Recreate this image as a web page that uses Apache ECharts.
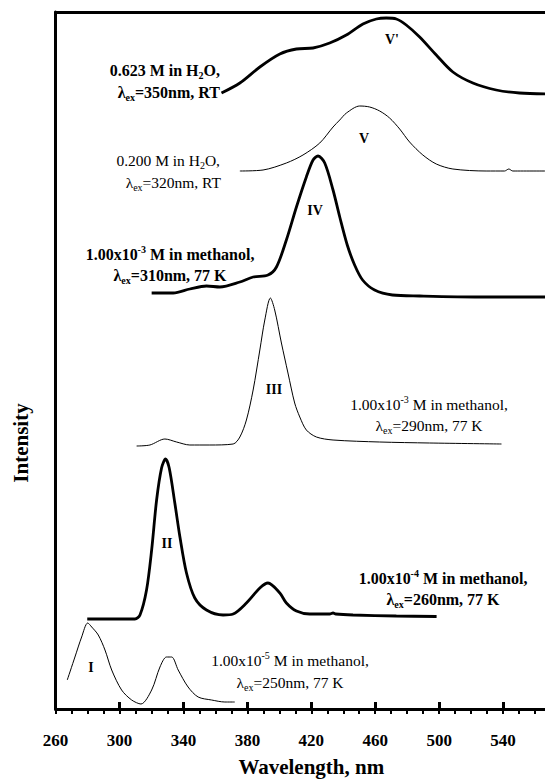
<!DOCTYPE html>
<html><head><meta charset="utf-8">
<script src="https://cdn.jsdelivr.net/npm/echarts@6/dist/echarts.min.js"></script>
<style>html,body{margin:0;padding:0;background:#fff}#c{width:545px;height:781px}</style>
</head><body><div id="c"></div>
<script>
// Wavelength (nm) and offset intensity (a.u.)
const wl_I   = [267.3,272.1,276.3,280.1,282.6,286.7,290.9,295.1,301.3,307.6,313.4,320.1,325.3,329.4,332.6,336.7,342.9,349.2,357.6,365.9,372.1];
const int_I  = [29,52,72,86,82,74,59,39,19,9,5,19,42,52,52,39,22,12,9,7,7];
const wl_II  = [279.8,309.6,312.8,316.9,320.1,323.2,326.3,328.8,331.1,334.6,337.8,341.9,347.1,354.4,364.8,371.1,379.4,387.8,392.9,400.3,404.4,410.7,419,431.5,433.6,435.3,446.1,473.2,498.4];
const int_II = [90,90,94,119,159,209,241,250,241,206,172,136,111,99,94,95,106,121,126,116,106,98,95,95,96,95,94,93,92.5];
const wl_III  = [310.7,319,328.4,335.7,344,356.5,371.1,375.3,379.4,383.6,387.8,390.9,394.4,397.1,401.3,405.4,409.6,412.8,416.9,423.2,433.6,462.8,494,539];
const int_III = [263,264,270,267,264,264,265,272,289,319,359,389,411,399,366,336,306,292,279,272,269,267,266,265];
const wl_IV  = [320.1,333.6,344,354.4,362.8,375.3,383.6,392.9,398.2,404.4,410.7,416.9,421.1,424.2,428.4,433.6,437.8,442.5,447.1,452.1,459.6,470.8,487.8,525.3,570];
const int_IV = [416,416,420,423,422,427,432,434,442,469,502,532,549,553,546,519,492,464,444,429,419,414,413,412,412];
const wl_V   = [375.3,389.8,404.4,414.8,425.3,433.6,437.8,442,450.3,456.5,462.8,469,475.3,481.5,489.8,498.2,508.6,529.4,540.9,543.6,546.1,570];
const int_V  = [538,539,546,554,566,582,589,596,603,602,598,591,580,567,554,545,540,538,538,540,538,538];
const wl_Vp  = [363.8,375.3,387.8,400.3,410.7,421.1,431.5,441.9,452.3,460.7,466.9,473.2,479.4,487.8,498.2,508.6,521.1,535.7,550.3,570];
const int_Vp = [616,626,642,655,660,661,666,674,685,690,691,690,684,672,654,637,626,619,616,615];

const xTicks = [260,300,340,380,420,460,500,540];
const yRange = [0, 697];

const FONT = 'Liberation Serif, Times New Roman, serif';
const zip = (a,b) => a.map((v,i)=>[v,b[i]]);

const curves = [
  {name:'I',   x:wl_I,   y:int_I,   w:1},
  {name:'II',  x:wl_II,  y:int_II,  w:2.8},
  {name:'III', x:wl_III, y:int_III, w:1},
  {name:'IV',  x:wl_IV,  y:int_IV,  w:2.8},
  {name:'V',   x:wl_V,   y:int_V,   w:1},
  {name:"V'",  x:wl_Vp,  y:int_Vp,  w:2.8}
];

function rich(weight){
  return {
    sub:{fontSize:10, lineHeight:12, verticalAlign:'bottom', fontFamily:FONT, fontWeight:weight, fill:'#000', color:'#000'},
    sup:{fontSize:10, lineHeight:12, verticalAlign:'top', fontFamily:FONT, fontWeight:weight, fill:'#000', color:'#000'}
  };
}
function txt(x,y,text,align,bold,size){
  const weight = bold ? 'bold' : 'normal';
  return {type:'text', x:x, y:y, silent:true, style:{text:text, fontFamily:FONT, fontSize:size||(bold?16:15.5), fontWeight:weight,
    fill:'#000', align:align, verticalAlign:'middle', lineHeight:20, rich:rich(weight)}};
}
const graphics = [
  txt(220,70,'0.623 M in H{sub|2}O,','right',true),
  txt(220,92,'λ{sub|ex}=350nm, RT','right',true),
  txt(220,160,'0.200 M in H{sub|2}O,','right',false),
  txt(221,182,'λ{sub|ex}=320nm, RT','right',false),
  txt(170,254,'1.00x10{sup|-3} M in methanol,','center',true),
  txt(170,275,'λ{sub|ex}=310nm, 77 K','center',true),
  txt(429,404,'1.00x10{sup|-3} M in methanol,','center',false),
  txt(429,425,'λ{sub|ex}=290nm, 77 K','center',false),
  txt(443,578,'1.00x10{sup|-4} M in methanol,','center',true),
  txt(443,599,'λ{sub|ex}=260nm, 77 K','center',true),
  txt(290,660,'1.00x10{sup|-5} M in methanol,','center',false),
  txt(290,682,'λ{sub|ex}=250nm, 77 K','center',false),
  txt(91,667,'I','center',true,14),
  txt(167,543,'II','center',true,14),
  txt(274,389,'III','center',true,14),
  txt(315,210,'IV','center',true,14),
  txt(364,138,'V','center',true,14),
  txt(392,39,"V'",'center',true,14),
  {type:'text', x:21, y:443, rotation:Math.PI/2, silent:true,
   style:{text:'Intensity', fontFamily:FONT, fontSize:21, fontWeight:'bold', fill:'#000', align:'center', verticalAlign:'middle'}}
];

const chart = echarts.init(document.getElementById('c'), null, {renderer:'svg'});
const xMin = xTicks[0], xMax = 580;
chart.setOption({
  animation:false,
  backgroundColor:'#fff',
  grid:{left:55.6, right:-22, top:12, bottom:72, containLabel:false, outerBoundsMode:'none'},
  xAxis:[
    {type:'value', min:xMin, max:xMax, interval:40, position:'bottom',
     axisLine:{show:true, lineStyle:{color:'#000', width:3}},
     axisTick:{show:true, inside:false, length:5, lineStyle:{color:'#000', width:2}},
     minorTick:{show:true, splitNumber:4, length:5, lineStyle:{color:'#000', width:2}},
     splitLine:{show:false}, minorSplitLine:{show:false},
     axisLabel:{show:true, margin:23, color:'#000', fontFamily:FONT, fontWeight:'bold', fontSize:17,
       formatter:v => xTicks.indexOf(v) >= 0 ? String(v) : ''},
     name:'Wavelength, nm', nameLocation:'middle', nameGap:47,
     nameTextStyle:{color:'#000', fontFamily:FONT, fontWeight:'bold', fontSize:21}},
    {type:'value', min:xMin, max:xMax, interval:40, position:'bottom',
     axisLine:{show:false}, axisTick:{show:true, inside:true, length:7, lineStyle:{color:'#000', width:3}},
     axisLabel:{show:false}, splitLine:{show:false}},
    {type:'value', min:xMin, max:xMax, position:'top',
     axisLine:{show:true, lineStyle:{color:'#000', width:3}}, axisTick:{show:false},
     axisLabel:{show:false}, splitLine:{show:false}}
  ],
  yAxis:{type:'value', min:yRange[0], max:yRange[1],
    axisLine:{show:true, lineStyle:{color:'#000', width:3}}, axisTick:{show:false},
    axisLabel:{show:false}, splitLine:{show:false}},
  series: curves.map(c => ({type:'line', name:c.name, data:zip(c.x,c.y), showSymbol:false, symbol:'none',
    smooth:0.3, clip:true, lineStyle:{color:'#000', width:c.w}})),
  graphic: graphics
});
</script></body></html>
